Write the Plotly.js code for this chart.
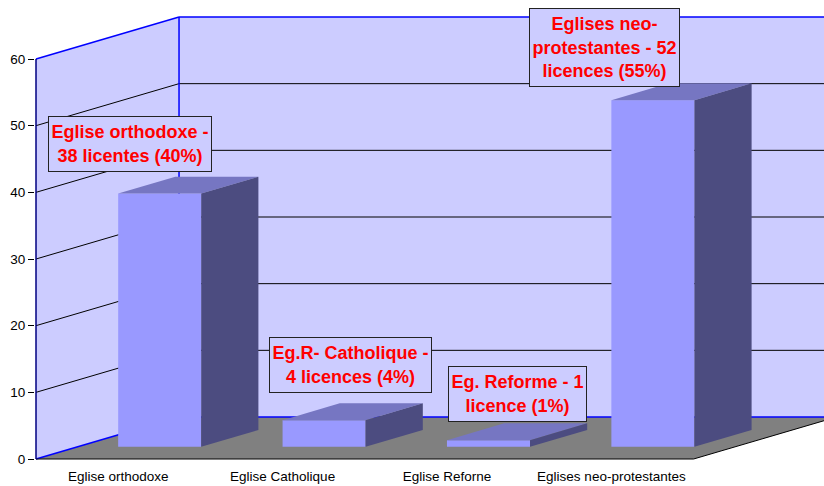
<!DOCTYPE html>
<html>
<head>
<meta charset="utf-8">
<script src="https://cdn.plot.ly/plotly-3.0.1.min.js"></script>
<style>
  html, body { margin: 0; padding: 0; background: #ffffff; }
  #chart { width: 824px; height: 486px; }
</style>
</head>
<body>
<div id="chart"></div>
<script>
// Licences per church group
const categories = ['Eglise orthodoxe', 'Eglise Catholique', 'Eglise Reforne', 'Eglises neo-protestantes'];
const licences = [38, 4, 1, 52];
const labelTexts = [
  'Eglise orthodoxe -<br>38 licentes (40%)',
  'Eg.R- Catholique -<br>4 licences (4%)',
  'Eg. Reforme - 1<br>licence (1%)',
  'Eglises neo-<br>protestantes - 52<br>licences (55%)'
];
const yTickValues = [0, 10, 20, 30, 40, 50, 60];

// 3D box geometry (axis units): depth of the box and bar placement within it
const PX_PER_CAT = 164.4;
const PX_PER_UNIT = 400 / 60;
const DEPTH_X = 0.87;      // horizontal shift of the back wall, in categories
const DEPTH_Y = 6.3;       // vertical shift of the back wall, in value units
const BAR_FRONT = 0.29;    // bar front face position (fraction of depth)
const BAR_BACK = 0.69;     // bar back face position (fraction of depth)
const BAR_W = 0.505;
const Y_TOP = 60;

const X_MIN = -0.5 - 1 / PX_PER_CAT;
const X_MAX = X_MIN + 789 / PX_PER_CAT;
const Y_MIN = -0.15;
const Y_MAX = Y_MIN + 460 / PX_PER_UNIT;

const fx = BAR_FRONT * DEPTH_X, fy = BAR_FRONT * DEPTH_Y;
const bx = BAR_BACK * DEPTH_X, by = BAR_BACK * DEPTH_Y;

const FRONT = '#9999ff', TOP = '#7676c2', SIDE = '#4c4c80';
const WALL = '#ccccff', FLOOR = '#808080', EDGE = '#0000ff';

const traces = [];

// front faces
traces.push({
  type: 'bar',
  x: categories.map((_, i) => i + fx),
  y: licences,
  base: licences.map(() => fy),
  width: BAR_W,
  marker: { color: FRONT, line: { width: 0 } },
  hoverinfo: 'skip',
  showlegend: false
});

// top and side faces
licences.forEach((v, i) => {
  const xl = i - BAR_W / 2, xr = i + BAR_W / 2;
  traces.push({
    type: 'scatter', mode: 'lines', fill: 'toself', fillcolor: TOP,
    line: { width: 0, color: TOP },
    x: [xl + fx, xr + fx, xr + bx, xl + bx, xl + fx],
    y: [v + fy, v + fy, v + by, v + by, v + fy],
    hoverinfo: 'skip', showlegend: false
  });
  traces.push({
    type: 'scatter', mode: 'lines', fill: 'toself', fillcolor: SIDE,
    line: { width: 0, color: SIDE },
    x: [xr + fx, xr + bx, xr + bx, xr + fx, xr + fx],
    y: [fy, by, v + by, v + fy, fy],
    hoverinfo: 'skip', showlegend: false
  });
});

// walls, floor and gridlines
const x0 = -0.5, xb = -0.5 + DEPTH_X, xEnd = 3.5;
const path = pts => 'M ' + pts.map(p => p[0] + ',' + p[1]).join(' L ') + ' Z';
const shapes = [];
shapes.push({ type: 'path', layer: 'below', xref: 'x', yref: 'y', line: { width: 0 }, fillcolor: FLOOR,
  path: path([[x0, 0], [xEnd, 0], [xEnd + DEPTH_X, DEPTH_Y], [xb, DEPTH_Y]]) });
shapes.push({ type: 'path', layer: 'below', xref: 'x', yref: 'y', line: { width: 0 }, fillcolor: WALL,
  path: path([[x0, 0], [x0, Y_TOP], [xb, Y_TOP + DEPTH_Y], [xb, DEPTH_Y]]) });
shapes.push({ type: 'path', layer: 'below', xref: 'x', yref: 'y', line: { width: 0 }, fillcolor: WALL,
  path: path([[xb, DEPTH_Y], [xb, Y_TOP + DEPTH_Y], [X_MAX + 1, Y_TOP + DEPTH_Y], [X_MAX + 1, DEPTH_Y]]) });

yTickValues.forEach(t => {
  const col = (t === 0 || t === Y_TOP) ? EDGE : '#000000';
  const w = (t === 0 || t === Y_TOP) ? 1.5 : 1;
  shapes.push({ type: 'line', layer: 'below', xref: 'x', yref: 'y', line: { color: col, width: w },
    x0: x0, y0: t, x1: xb, y1: t + DEPTH_Y });
  shapes.push({ type: 'line', layer: 'below', xref: 'x', yref: 'y', line: { color: col, width: w },
    x0: xb, y0: t + DEPTH_Y, x1: X_MAX + 1, y1: t + DEPTH_Y });
});
// back wall left edge
shapes.push({ type: 'line', layer: 'below', xref: 'x', yref: 'y', line: { color: EDGE, width: 1.5 },
  x0: xb, y0: DEPTH_Y, x1: xb, y1: Y_TOP + DEPTH_Y });
// floor front and right edges
shapes.push({ type: 'line', layer: 'below', xref: 'x', yref: 'y', line: { color: '#000000', width: 1 },
  x0: x0, y0: 0, x1: xEnd, y1: 0 });
shapes.push({ type: 'line', layer: 'below', xref: 'x', yref: 'y', line: { color: '#000000', width: 1 },
  x0: xEnd, y0: 0, x1: xEnd + DEPTH_X, y1: DEPTH_Y });
// value axis line
shapes.push({ type: 'line', layer: 'above', xref: 'x', yref: 'y', line: { color: '#000080', width: 1.5 },
  x0: x0, y0: 0, x1: x0, y1: Y_TOP });

// data labels
const labelPos = [[0.070, 47.28], [1.410, 14.1], [2.426, 9.78], [2.961, 61.68]];
const labelSize = [[160, 52], [159, 52], [135, 52], [147, 75]];
const annotations = labelTexts.map((t, i) => ({
  text: t, xref: 'x', yref: 'y', x: labelPos[i][0], y: labelPos[i][1],
  showarrow: false, xanchor: 'center', yanchor: 'middle',
  width: labelSize[i][0], height: labelSize[i][1],
  bgcolor: WALL, bordercolor: '#222222', borderwidth: 1, borderpad: 1,
  font: { family: 'Liberation Sans, Arial, sans-serif', size: 18, color: '#ff0000', weight: 'bold' }
}));

const tickFont = { family: 'Liberation Sans, Arial, sans-serif', size: 13.5, color: '#000000' };

const layout = {
  width: 824, height: 486,
  margin: { l: 35, r: 0, t: 0, b: 26 },
  paper_bgcolor: '#ffffff', plot_bgcolor: '#ffffff',
  showlegend: false,
  barmode: 'overlay',
  xaxis: {
    range: [X_MIN, X_MAX], showgrid: false, zeroline: false, showline: false,
    tickmode: 'array', tickvals: [0, 1, 2, 3], ticktext: categories,
    ticks: 'outside', ticklen: 4, tickcolor: 'rgba(0,0,0,0)',
    tickfont: tickFont, fixedrange: true
  },
  xaxis2: {
    overlaying: 'x', anchor: 'y', side: 'bottom',
    range: [X_MIN, X_MAX], showgrid: false, zeroline: false, showline: false,
    tickmode: 'array', tickvals: [-0.5, 0.5, 1.5, 2.5, 3.5],
    ticks: 'outside', ticklen: 8, tickcolor: '#000000', showticklabels: false
  },
  yaxis: {
    range: [Y_MIN, Y_MAX], showgrid: false, zeroline: false, showline: false,
    tickmode: 'array', tickvals: yTickValues,
    ticks: 'outside', ticklen: 6, tickcolor: '#000000',
    tickfont: tickFont, fixedrange: true
  },
  shapes: shapes,
  annotations: annotations
};

Plotly.newPlot('chart', traces, layout, { displayModeBar: false, staticPlot: true });
</script>
</body>
</html>
